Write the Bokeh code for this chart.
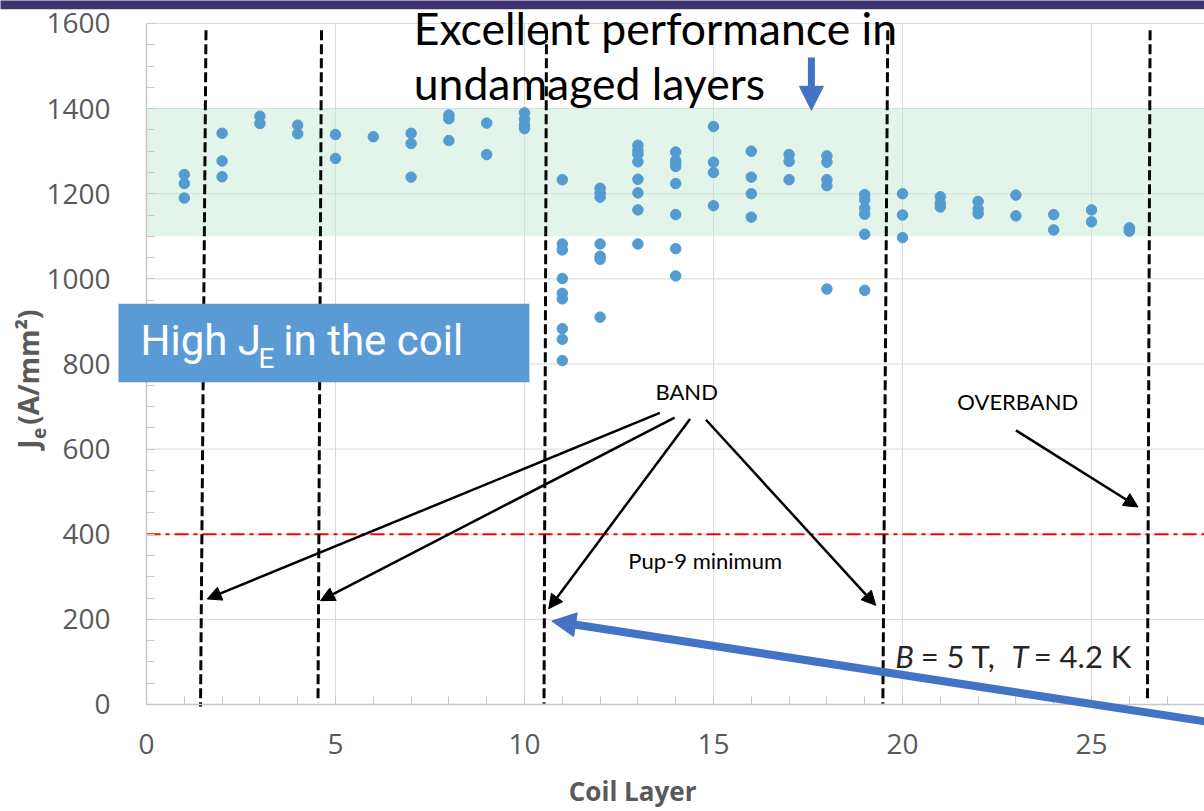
import math
from bokeh.plotting import figure
from bokeh.models import (BoxAnnotation, Label, Arrow, NormalHead,
                          SingleIntervalTicker)
from bokeh.core.properties import value
from bokeh.embed import file_html
from bokeh.resources import INLINE

# ---------------- data ----------------
layers = list(range(1, 27))
je_by_layer = [
    [1245, 1224, 1190],                                   # 1
    [1342, 1277, 1240],                                   # 2
    [1382, 1365],                                         # 3
    [1361, 1341],                                         # 4
    [1339, 1283],                                         # 5
    [1334],                                               # 6
    [1342, 1318, 1239],                                   # 7
    [1385, 1376, 1325],                                   # 8
    [1366, 1292],                                         # 9
    [1390, 1375, 1362, 1353],                             # 10
    [1233, 1082, 1068, 1001, 966, 953, 883, 858, 808],    # 11
    [1213, 1202, 1192, 1082, 1053, 1046, 910],            # 12
    [1314, 1302, 1293, 1275, 1234, 1202, 1162, 1082],     # 13
    [1298, 1278, 1272, 1264, 1224, 1151, 1071, 1007],     # 14
    [1358, 1274, 1250, 1172],                             # 15
    [1300, 1239, 1200, 1145],                             # 16
    [1292, 1276, 1233],                                   # 17
    [1289, 1274, 1233, 1219, 976],                        # 18
    [1198, 1186, 1166, 1152, 1105, 973],                  # 19
    [1200, 1150, 1097],                                   # 20
    [1193, 1178, 1169],                                   # 21
    [1182, 1164, 1153],                                   # 22
    [1197, 1148],                                         # 23
    [1151, 1115],                                         # 24
    [1162, 1134],                                         # 25
    [1120, 1112],                                         # 26
]
x_ticks = [0, 5, 10, 15, 20, 25]
y_ticks = [0, 200, 400, 600, 800, 1000, 1200, 1400, 1600]
good_band = (1100, 1400)
pup9_minimum = 400
# band boundaries (hand-drawn, slightly slanted dashed lines)
band_edge_top = [1.574, 4.630, 10.582, 19.61, 26.55]
band_edge_bottom = [1.429, 4.537, 10.516, 19.48, 26.48]

xs, ys = [], []
for lay, vals in zip(layers, je_by_layer):
    xs += [lay] * len(vals)
    ys += vals

X_START, X_END = -3.8624, 27.989
Y_START, Y_END = -251.4, 1654.0

p = figure(width=1204, height=811, title=None, toolbar_location=None,
           output_backend="svg", x_range=(X_START, X_END), y_range=(Y_START, Y_END),
           min_border=0, min_border_left=0, min_border_right=0, min_border_top=0,
           min_border_bottom=0, outline_line_color=None,
           background_fill_color="white", border_fill_color="white")

# axes (placed at the data origin, inside the frame)
TICK_FONT = "Open Sans"
for ax in (p.xaxis[0], p.yaxis[0]):
    ax.fixed_location = 0
    ax.axis_line_color = "#c8c8c8"
    ax.axis_line_width = 1.5
    ax.major_tick_in = 8
    ax.major_tick_out = 0
    ax.minor_tick_in = 8
    ax.minor_tick_out = 0
    ax.major_tick_line_color = "#c8c8c8"
    ax.minor_tick_line_color = "#c8c8c8"
    ax.major_label_text_font = TICK_FONT
    ax.major_label_text_font_size = "28px"
    ax.major_label_text_color = "#595959"
    ax.axis_label = None
p.xaxis.ticker = SingleIntervalTicker(interval=5, num_minor_ticks=5)
p.yaxis.ticker = SingleIntervalTicker(interval=200, num_minor_ticks=4)
p.xaxis.bounds = (0, X_END)
p.yaxis.bounds = (0, 1600)
p.xaxis.major_label_standoff = 30
p.yaxis.major_label_standoff = 36
p.grid.visible = False

# grid lines
GRID = "#d9d9d9"
p.segment(x0=x_ticks[1:], y0=[0] * 5, x1=x_ticks[1:], y1=[y_ticks[-1]] * 5,
          line_color=GRID, line_width=1)
p.segment(x0=[0] * 8, y0=y_ticks[1:], x1=[X_END] * 8, y1=y_ticks[1:],
          line_color=GRID, line_width=1)

# green band of good performance
p.quad(left=0, right=X_END, bottom=good_band[0], top=good_band[1],
       fill_color="#c7ebd7", fill_alpha=0.5, line_color=None)

# Pup-9 minimum line
p.segment(x0=[0], y0=[pup9_minimum], x1=[X_END], y1=[pup9_minimum],
          line_color="#ff0000", line_width=2, line_dash="14 5 4 5")

# band boundary dashed lines
p.segment(x0=band_edge_top, y0=[1584] * 5, x1=band_edge_bottom,
          y1=[-5, 5, 2, 2, 9],
          line_color="#050505", line_width=3, line_dash="10 4")

# data points
p.scatter(xs, ys, size=10.5, fill_color="#539bd0", line_color="#539bd0")

# purple bar on top
p.quad(left=X_START - 1, right=X_END + 1, bottom=1633.5, top=Y_END + 20,
       fill_color="#403470", line_color=None)

# title text
TITLE_FONT = "Lato"
p.text(x=[7.07, 7.07], y=[1590, 1461],
       text=["Excellent performance in", "undamaged layers"],
       text_font=value(TITLE_FONT), text_font_size="44.5px", text_color="black",
       text_baseline="middle", text_align="left")

# small blue arrow
p.add_layout(Arrow(x_start=17.59, y_start=1520, x_end=17.59, y_end=1396,
                   line_color="#4472c4", line_width=7,
                   end=NormalHead(size=24, fill_color="#4472c4", line_color="#4472c4")))

# High J_E box
p.add_layout(BoxAnnotation(left=-0.741, right=10.13, bottom=757.3, top=941.5,
                           fill_color="#5b9bd5", fill_alpha=1, line_color=None))
box_font = "Roboto"
p.add_layout(Label(x=-0.159, y=855, text="High J", text_color="white",
                   text_font=box_font, text_font_size="42px",
                   text_baseline="middle", text_align="left"))
p.add_layout(Label(x=2.96, y=812, text="E", text_color="white",
                   text_font=box_font, text_font_size="28px",
                   text_baseline="middle", text_align="left"))
p.add_layout(Label(x=3.62, y=855, text="in the coil", text_color="white",
                   text_font=box_font, text_font_size="42px",
                   text_baseline="middle", text_align="left"))

# BAND / OVERBAND annotations
ANN_FONT = "Lato"
p.text(x=[14.29, 23.05, 14.78], y=[735, 713, 338],
       text=["BAND", "OVERBAND", "Pup-9 minimum"],
       text_font=value(ANN_FONT), text_font_size="22px", text_color="black",
       text_baseline="middle", text_align="center")

band_starts = [(13.58, 685), (13.97, 674), (14.38, 671), (14.80, 669)]
band_ends = [(1.606, 248), (4.603, 244), (10.64, 225), (19.29, 233)]
for (x0, y0), (x1, y1) in zip(band_starts, band_ends):
    p.add_layout(Arrow(x_start=x0, y_start=y0, x_end=x1, y_end=y1,
                       line_color="black", line_width=2.5,
                       end=NormalHead(size=14, fill_color="black", line_color="black")))
p.add_layout(Arrow(x_start=23.0, y_start=644, x_end=26.23, y_end=464,
                   line_color="black", line_width=2.5,
                   end=NormalHead(size=14, fill_color="black", line_color="black")))

# B = 5 T, T = 4.2 K  (symbols in italics)
p.text(x=[19.81, 22.88], y=[115, 115], text=["B", "T"],
       text_font=value(ANN_FONT), text_font_size="31px", text_color="#262626",
       text_font_style="italic", text_baseline="middle", text_align="left")
p.text(x=[20.48, 23.47], y=[115, 115], text=["= 5 T,", "= 4.2 K"],
       text_font=value(ANN_FONT), text_font_size="31px", text_color="#262626",
       text_baseline="middle", text_align="left")

# big blue arrow
p.add_layout(Arrow(x_start=28.25, y_start=-43, x_end=10.72, y_end=196,
                   line_color="#4472c4", line_width=8,
                   end=NormalHead(size=24, fill_color="#4472c4", line_color="#4472c4")))

# axis titles
AX_FONT = "Open Sans"
p.add_layout(Label(x=-3.122, y=601, text="J", angle=math.pi / 2,
                   text_font=AX_FONT, text_font_size="28px", text_font_style="bold",
                   text_color="#595959", text_baseline="middle", text_align="left"))
p.add_layout(Label(x=-2.85, y=624, text="e", angle=math.pi / 2,
                   text_font=AX_FONT, text_font_size="19px", text_font_style="bold",
                   text_color="#595959", text_baseline="middle", text_align="left"))
p.add_layout(Label(x=-3.122, y=657, text="(A/mm²)", angle=math.pi / 2,
                   text_font=AX_FONT, text_font_size="28px", text_font_style="bold",
                   text_color="#595959", text_baseline="middle", text_align="left"))
p.add_layout(Label(x=12.86, y=-204, text="Coil Layer",
                   text_font=AX_FONT, text_font_size="26px", text_font_style="bold",
                   text_color="#595959", text_baseline="middle", text_align="center"))

open("out.html", "w").write(file_html(p, INLINE))
